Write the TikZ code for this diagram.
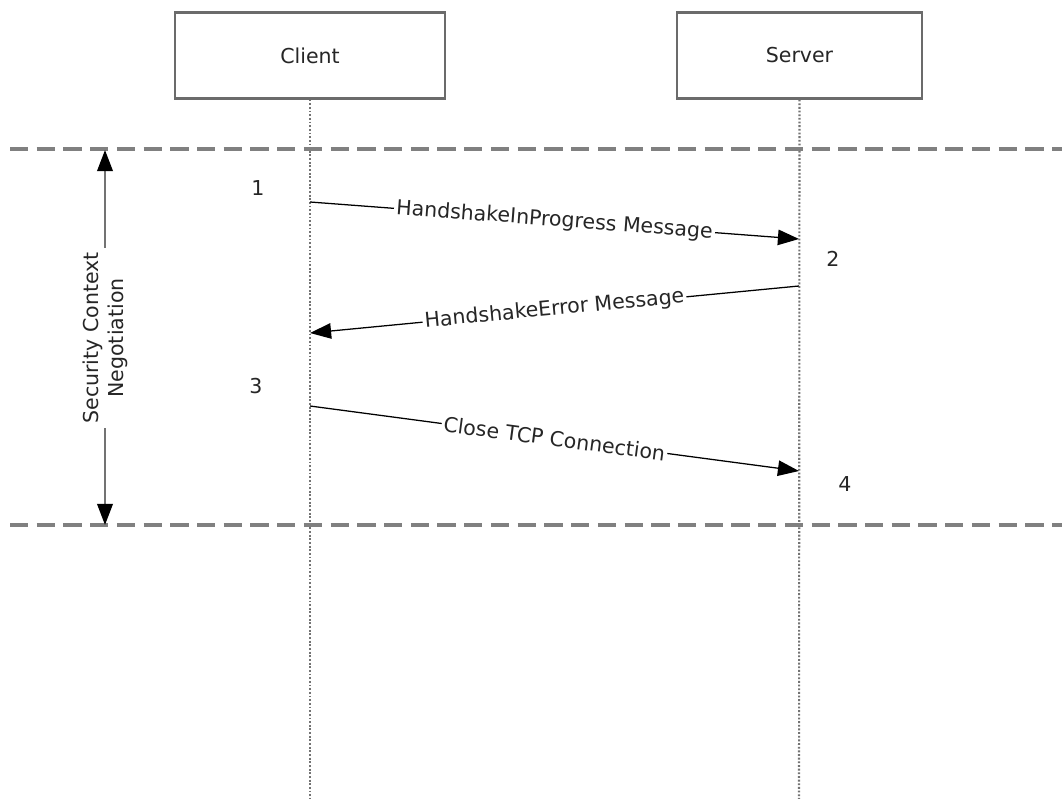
\documentclass[tikz,border=0pt]{standalone}
\usepackage{fontspec}
\setmainfont{DejaVu Sans}
\usepackage{tikz}
\usetikzlibrary{arrows.meta}

\begin{document}
\begin{tikzpicture}[x=0.025cm, y=-0.025cm,
    font=\fontsize{14.6}{18}\selectfont, text=black!85,
    actor/.style={draw=black!58, line width=1.6pt, minimum height=2.15cm},
    lifeline/.style={draw=black!55, line width=1.5pt, dash pattern=on 1.3pt off 1.3pt},
    phase/.style={draw=black!50, line width=2.6pt, dash pattern=on 13pt off 6pt},
    msg/.style={draw=black, line width=0.9pt, -{Triangle[length=15pt, width=11pt]}},
    msglabel/.style={midway, sloped, fill=white, inner sep=1.5pt},
    span/.style={draw=black!55, line width=1.6pt, -{Triangle[length=15pt, width=11pt, color=black]}}
  ]
      \useasboundingbox (0,0) rectangle (1062,799);

      % actors
      \node[actor, minimum width=6.75cm] (client) at (310,55.5) {Client};
      \node[actor, minimum width=6.125cm] (server) at (799.5,55.5) {Server};

      \coordinate (cend) at (310,799);
      \coordinate (send) at (799,799);
      \draw[lifeline] (client.south) -- (cend);
      \draw[lifeline] (server.south) -- (send);

      % phase limits
      \coordinate (p1l) at (10,149);
      \coordinate (p1r) at (1062,149);
      \coordinate (p2l) at (10,525);
      \coordinate (p2r) at (1062,525);
      \draw[phase] (p1l) -- (p1r);
      \draw[phase] (p2l) -- (p2r);

      \coordinate (ptop) at (105,150);
      \coordinate (pbot) at (105,525);
      \node[rotate=90, align=center, inner sep=3pt] (nego) at (105,338)
        {Security Context\\Negotiation};
      \draw[span] (nego.east) -- (ptop);
      \draw[span] (nego.west) -- (pbot);

      % messages
      \coordinate (c1) at (310,202);
      \coordinate (s1) at (799,239);
      \coordinate (s2) at (799,286);
      \coordinate (c2) at (310,333);
      \coordinate (c3) at (310,406);
      \coordinate (s3) at (799,471);

      \draw[msg] (c1) -- (s1) node[msglabel] {HandshakeInProgress Message};
      \draw[msg] (s2) -- (c2) node[msglabel] {HandshakeError Message};
      \draw[msg] (c3) -- (s3) node[msglabel] {Close TCP Connection};

      % steps
      \node (n1) at (258,188) {1};
      \node (n2) at (833,259) {2};
      \node (n3) at (256,386) {3};
      \node (n4) at (845,484) {4};
    \end{tikzpicture}
\end{document}
